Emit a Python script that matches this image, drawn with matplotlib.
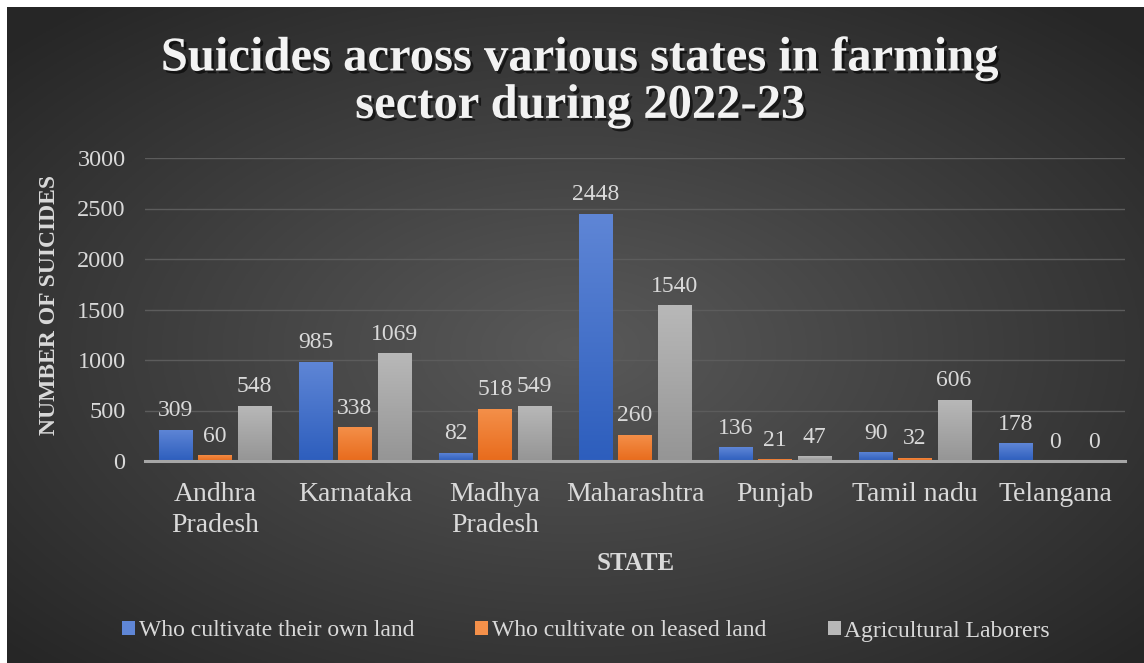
import numpy as np
import matplotlib.pyplot as plt
import matplotlib.patheffects as pe

states = ["Andhra\nPradesh", "Karnataka", "Madhya\nPradesh", "Maharashtra",
          "Punjab", "Tamil nadu", "Telangana"]
own_land = [309, 985, 82, 2448, 136, 90, 178]
leased_land = [60, 338, 518, 260, 21, 32, 0]
laborers = [548, 1069, 549, 1540, 47, 606, 0]
series_names = ["Who cultivate their own land", "Who cultivate on leased land",
                "Agricultural Laborers"]

colors = [("#5f86d6", "#2d5ebd"), ("#f4904a", "#e86b1c"), ("#b8b8b8", "#959595")]
text_col = "#d9d9d9"

plt.rcParams["font.family"] = ["Liberation Serif", "DejaVu Serif"]

fig = plt.figure(figsize=(11.44, 6.63), dpi=100)
fig.patch.set_facecolor("white")

# dark radial background
bg = fig.add_axes([7 / 1144, 0, 1 - 7 / 1144, 1 - 7 / 663], zorder=-10)
yy, xx = np.mgrid[0:1:300j, 0:1:500j]
r = np.sqrt(((xx - 0.5) / 0.75) ** 2 + ((yy - 0.52) / 0.75) ** 2)
shade = np.clip(0.35 - 0.22 * r, 0.15, 0.35)
bg.imshow(np.dstack([shade] * 3), aspect="auto", extent=[0, 1, 0, 1])
bg.set_axis_off()

ax = fig.add_axes([145 / 1144, 1 - 461 / 663, 980 / 1144, 303 / 663])
ax.set_facecolor("none")

x = np.arange(len(states))
step = 0.279
width = 0.236
for i, (vals, name) in enumerate(zip([own_land, leased_land, laborers], series_names)):
    pos = x + (i - 1) * step
    bars = ax.bar(pos, vals, width, color=colors[i][0], label=name, zorder=3)
    grad = np.linspace(0, 1, 100).reshape(-1, 1)
    c_top = np.array(plt.matplotlib.colors.to_rgb(colors[i][0]))
    c_bot = np.array(plt.matplotlib.colors.to_rgb(colors[i][1]))
    img = c_top[None, None, :] * (1 - grad[:, :, None]) + c_bot[None, None, :] * grad[:, :, None]
    for b, v in zip(bars, vals):
        if v > 0:
            im = ax.imshow(img, aspect="auto", zorder=4,
                           extent=[b.get_x(), b.get_x() + b.get_width(), 0, v])
            im.set_clip_path(b)
        ax.annotate(str(v), (b.get_x() + b.get_width() / 2, v), xytext=(0, 6),
                    textcoords="offset points", ha="center", va="bottom",
                    fontsize=17, color=text_col, zorder=5)

ax.set_xlim(-0.5, len(states) - 0.5)
ax.set_ylim(0, 3000)
ax.set_yticks(np.arange(0, 3001, 500))
ax.grid(axis="y", color="#5c5c5c", linewidth=1, zorder=0)
ax.set_xticks(x)
ax.set_xticklabels(states, linespacing=1.35, fontsize=20)
ax.tick_params(axis="both", length=0, labelcolor=text_col)
ax.tick_params(axis="y", labelsize=17.5, pad=14)
ax.tick_params(axis="x", pad=15)
for s in ["top", "right", "left"]:
    ax.spines[s].set_visible(False)
ax.spines["bottom"].set_color("#a6a6a6")
ax.spines["bottom"].set_linewidth(2.2)
ax.spines["bottom"].set_zorder(6)

fig.text(50 / 1144, 1 - 305 / 663, "NUMBER OF SUICIDES", rotation=90, ha="center",
         va="center", fontsize=17, fontweight="bold", color=text_col)
fig.text(636 / 1144, 1 - 563 / 663, "STATE", ha="center", va="center",
         fontsize=18, fontweight="bold", color=text_col)

fig.text(580 / 1144, 1 - 82 / 663, "Suicides across various states in farming\nsector during 2022-23",
         ha="center", va="center", fontsize=35, fontweight="bold", color="#f2f2f2",
         linespacing=1.1,
         path_effects=[pe.withSimplePatchShadow(offset=(2, -2), shadow_rgbFace="black", alpha=0.6)])

fig.legend(loc="center", bbox_to_anchor=(586 / 1144, 1 - 631 / 663), ncol=3, frameon=False,
           fontsize=17, labelcolor=text_col, handlelength=0.55, handleheight=0.55,
           handletextpad=0.15, columnspacing=2.6)

fig.savefig("out.png", dpi=100)
